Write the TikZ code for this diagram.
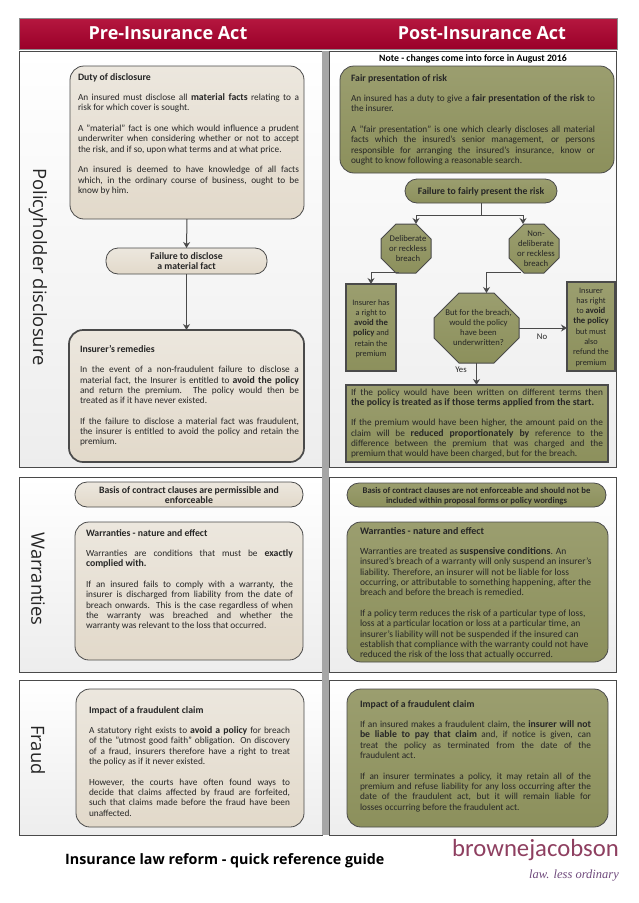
\documentclass[tikz,border=0pt]{standalone}
\usepackage{fontspec}
\setmainfont{Carlito}[BoldFeatures={Scale=1.05}]
\newfontfamily\hdfont{Open Sans}
\newfontfamily\logofont{Carlito}
\newfontfamily\tagfont{Liberation Serif}
\usetikzlibrary{arrows.meta}
\definecolor{crimA}{HTML}{B5173F}
\definecolor{crimB}{HTML}{9A0029}
\definecolor{beigeA}{HTML}{ECE7DE}
\definecolor{beigeB}{HTML}{E2D9CA}
\definecolor{oliveA}{HTML}{9B9E6F}
\definecolor{oliveB}{HTML}{8C905C}
\definecolor{edgeC}{HTML}{4A4A4A}
\definecolor{bodyC}{HTML}{262626}
\definecolor{logoA}{HTML}{8E3F60}
\definecolor{logoB}{HTML}{6F4A7C}
\tolerance=9999 \hbadness=10000 \hfuzz=8pt \emergencystretch=10pt
\newcommand\fs{\fontsize{9.3}{10.3}\selectfont\color{bodyC}}
\newcommand\sm{\fontsize{8.7}{10.3}\selectfont}
\newcommand\tn{\fontsize{8.3}{10.3}\selectfont}
\newcommand\pg{\par\vspace{10.3pt}}
\newcommand\lb{\linebreak}
\newcommand\tbox[9]{\def\Nm{#1}\tikzset{curbox/.style={#2}}\def\Xa{#3}\def\Ya{#4}%
  \pgfmathsetlengthmacro\Wd{#5-#3}\pgfmathsetlengthmacro\Ht{#6-#4}%
  \pgfmathsetlengthmacro\Lf{#7-#3}\pgfmathsetlengthmacro\Tw{#8-#7}%
  \pgfmathsetlengthmacro\Tp{#9-#4-4}\tboxB}
\newcommand\tboxB[1]{\node[curbox,anchor=north west,inner sep=0pt,outer sep=0pt,minimum width=\Wd,minimum height=\Ht] (\Nm) at (\Xa,\Ya)
  {\parbox[c][\Ht][t]{\Wd}{\vspace*{\Tp}\hspace*{\Lf}\parbox[t]{\Tw}{\fs\rule{0pt}{7pt}#1}}};}
% octagon: name, x0,y0,x1,y1, chamfer, first line y, text
\newcommand\octo[8]{\draw[olivefill,line width=1pt] (#2+#6,#3) -- (#4-#6,#3) -- (#4,#3+#6) -- (#4,#5-#6) -- (#4-#6,#5) -- (#2+#6,#5) -- (#2,#5-#6) -- (#2,#3+#6) -- cycle;
  \tbox{#1}{}{#2}{#3}{#4}{#5}{#2+2}{#4-2}{#7}{\centering\sm #8\par}}
\tikzset{
  panel/.style={draw=edgeC,line width=0.7pt,top color=white,bottom color=black!7},
  beigefill/.style={draw=edgeC,line width=0.8pt,top color=beigeA,bottom color=beigeB},
  olivefill/.style={draw=edgeC,line width=0.8pt,top color=oliveA,bottom color=oliveB},
  rbeige/.style={beigefill,rounded corners=14pt},
  rolive/.style={olivefill,rounded corners=14pt},
  pbeige/.style={beigefill,rounded corners=12pt},
  polive/.style={olivefill,rounded corners=12pt},
  sqolive/.style={olivefill,line width=2.2pt},
  conn/.style={draw=edgeC,line width=1pt,-{Stealth[length=6pt,width=7pt]}},
  plainconn/.style={draw=edgeC,line width=1pt},
  sidelabel/.style={font=\hdfont\fontsize{18.4}{22}\selectfont,rotate=-90,text=black!85,inner sep=0pt},
  headtext/.style={font=\hdfont\bfseries\fontsize{18}{20}\selectfont,text=white,inner sep=0pt},
  small/.style={font=\fontsize{8.7}{10.3}\selectfont,text=bodyC,inner sep=0pt}
}
\begin{document}
\begin{tikzpicture}[x=1pt,y=-1pt]
\useasboundingbox (0,0) rectangle (638,903);
% header
\node[draw=black!45,line width=0.6pt,top color=crimA,bottom color=crimB,anchor=north west,minimum width=598pt,minimum height=31pt,inner sep=0pt] (band) at (19,18) {};
\node[headtext] (hpre) at (168,33) {Pre-Insurance Act};
\node[headtext] (hpost) at (482,33) {Post-Insurance Act};
% panels
\path[panel] (19,51) rectangle (322,467);
\path[panel] (329,51) rectangle (616,467);
\path[panel] (19,477) rectangle (322,672);
\path[panel] (329,477) rectangle (616,672);
\path[panel] (19,680) rectangle (322,835);
\path[panel] (329,680) rectangle (616,835);
\fill[black!35] (322,51) rectangle (329,835);
% side labels
\node[sidelabel] (s1) at (38,267) {Policyholder disclosure};
\node[sidelabel] (s2) at (38,579) {Warranties};
\node[sidelabel] (s3) at (38,750) {Fraud};
% left column
\tbox{duty}{rbeige}{70}{66}{304}{219}{78}{299}{77}{\textbf{Duty of disclosure}\pg
An insured must disclose all \textbf{material facts} relating to a\lb risk for which cover is sought.\pg
A "material" fact is one which would influence a prudent\lb underwriter when considering whether or not to accept\lb the risk, and if so, upon what terms and at what price.\pg
An insured is deemed to have knowledge of all facts\lb which, in the ordinary course of business, ought to be\lb know by him.\par}
\tbox{fail}{pbeige}{106}{248}{267}{274}{110}{263}{256}{\centering\textbf{Failure to disclose\\ a material fact}\par}
\tbox{rem}{rbeige,line width=1.7pt}{69}{330}{304}{462}{80}{299}{349}{\textbf{Insurer's remedies}\pg
In the event of a non-fraudulent failure to disclose a\lb material fact, the Insurer is entitled to \textbf{avoid the policy}\lb and return the premium. The policy would then be\lb treated as if it have never existed.\pg
If the failure to disclose a material fact was fraudulent,\lb the insurer is entitled to avoid the policy and retain the\lb premium.\par}
\draw[conn] (duty.south) -- (fail.north);
\draw[conn] (fail.south) -- (rem.north);
\tbox{basisl}{pbeige}{75}{482}{303}{507}{85}{293}{490}{\centering\textbf{Basis of contract clauses are permissible and\\ enforceable}\par}
\tbox{warl}{rbeige}{75}{522}{303}{660}{86}{293}{533}{\textbf{Warranties - nature and effect}\pg
Warranties are conditions that must be \textbf{exactly}\lb \textbf{complied with.}\pg
If an insured fails to comply with a warranty, the\lb insurer is discharged from liability from the date of\lb breach onwards. This is the case regardless of when\lb the warranty was breached and whether the\lb warranty was relevant to the loss that occurred.\par}
\tbox{frl}{rbeige}{76}{689}{304}{827}{89}{290}{710}{\textbf{Impact of a fraudulent claim}\pg
A statutory right exists to \textbf{avoid a policy} for breach\lb of the "utmost good faith" obligation. On discovery\lb of a fraud, insurers therefore have a right to treat\lb the policy as if it never existed.\pg
However, the courts have often found ways to\lb decide that claims affected by fraud are forfeited,\lb such that claims made before the fraud have been\lb unaffected.\par}
% right column
\node[font=\bfseries\fontsize{9.3}{10.3}\selectfont,text=black,inner sep=0pt] (note) at (473,59) {Note - changes come into force in August 2016};
\tbox{fair}{rolive}{340}{66}{614}{173}{351}{595}{78}{\textbf{Fair presentation of risk}\pg
An insured has a duty to give a \textbf{fair presentation of the risk} to\lb the insurer.\pg
A "fair presentation" is one which clearly discloses all material\lb facts which the insured's senior management, or persons\lb responsible for arranging the insured's insurance, know or\lb ought to know following a reasonable search.\par}
\tbox{fp}{polive}{405}{179}{557}{203}{409}{553}{191}{\centering\textbf{Failure to fairly present the risk}\par}
\octo{del}{381}{224}{431}{273}{15}{238}{Deliberate\\ or reckless\\ breach}
\octo{non}{509}{224}{559}{273}{15}{233}{Non-\\ deliberate\\ or reckless\\ breach}
\octo{big}{434}{293}{519}{363}{25}{312}{But for the breach,\\ would the policy\\ have been\\ underwritten?}
\tbox{lbox}{sqolive}{346}{284}{396}{371}{348}{394}{302}{\centering\tn Insurer has\\ a right to\\ \textbf{avoid the}\\ \textbf{policy} and\\ retain the\\ premium\par}
\tbox{rbox}{sqolive}{567}{282}{615}{371}{568}{614}{290}{\centering\tn Insurer\\ has right\\ to \textbf{avoid}\\ \textbf{the policy}\\ but must\\ also\\ refund the\\ premium\par}
\tbox{bot}{sqolive}{346}{385}{608}{462}{351}{603}{392}{If the policy would have been written on different terms then\lb \textbf{the policy is treated as if those terms applied from the start.}\pg
If the premium would have been higher, the amount paid on the\lb claim will be \textbf{reduced proportionately by} reference to the\lb difference between the premium that was charged and the\lb premium that would have been charged, but for the breach.\par}
\coordinate (jn) at (481,215);
\draw[plainconn] (fp.south) -- (jn);
\draw[conn] (jn) -| ([xshift=10pt]del.north);
\draw[conn] (jn) -| ([xshift=-11pt]non.north);
\draw[conn] ([xshift=-8pt]del.south) |- ++(0,-1) -| (lbox.north);
\draw[conn] ([xshift=-14pt]non.south) |- ++(0,-1) -| ([xshift=10pt]big.north);
\draw[conn] (big.east) -- (big.east -| rbox.west);
\draw[conn] (big.south) -- (big.south |- bot.north);
\node[small] (no) at (542,337) {No};
\node[small] (yes) at (461,370) {Yes};
\tbox{basisr}{polive}{347}{483}{606}{507}{350}{603}{490}{\centering\tn\textbf{Basis of contract clauses are not enforceable and should not be\\ included within proposal forms or policy wordings}\par}
\tbox{warr}{rolive}{347}{522}{608}{662}{360}{600}{531}{\raggedright\fontsize{9.5}{10.3}\selectfont\textbf{Warranties - nature and effect}\pg
Warranties are treated as \textbf{suspensive conditions}. An\\ insured's breach of a warranty will only suspend an insurer's\\ liability. Therefore, an insurer will not be liable for loss\\ occurring, or attributable to something happening, after the\\ breach and before the breach is remedied.\pg
If a policy term reduces the risk of a particular type of loss,\\ loss at a particular location or loss at a particular time, an\\ insurer's liability will not be suspended if the insured can\\ establish that compliance with the warranty could not have\\ reduced the risk of the loss that actually occurred.\par}
\tbox{frr}{rolive}{347}{689}{608}{827}{360}{591}{704}{\textbf{Impact of a fraudulent claim}\pg
If an insured makes a fraudulent claim, the \textbf{insurer will not}\lb \textbf{be liable to pay that claim} and, if notice is given, can\lb treat the policy as terminated from the date of the\lb fraudulent act.\pg
If an insurer terminates a policy, it may retain all of the\lb premium and refuse liability for any loss occurring after the\lb date of the fraudulent act, but it will remain liable for\lb losses occurring before the fraudulent act.\par}
% footer
\node[font=\hdfont\bfseries\fontsize{14.3}{16}\selectfont,text=black,anchor=west,inner sep=0pt] (foot) at (65,861) {Insurance law reform - quick reference guide};
\node[font=\logofont\fontsize{24.7}{30}\selectfont,text=logoA,anchor=east,inner sep=0pt] (logo) at (619,850) {brownejacobson};
\node[font=\tagfont\itshape\fontsize{12.5}{15}\selectfont,text=logoB,anchor=east,inner sep=0pt] (tag) at (619,876) {law. less ordinary};
\end{tikzpicture}
\end{document}
